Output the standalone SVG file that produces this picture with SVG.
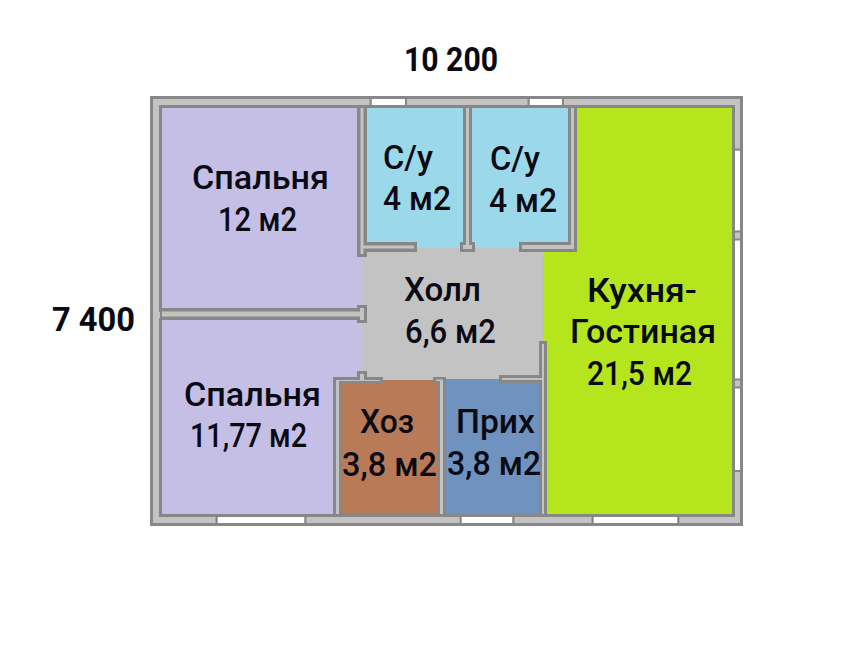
<svg xmlns="http://www.w3.org/2000/svg" width="858" height="647" viewBox="0 0 858 647">
<style>
text{font-family:"Roboto","Liberation Sans",sans-serif;font-size:33.500px;font-weight:500;fill:#0a0a14;text-anchor:middle}
.b{font-weight:700}
.edge{fill:none;stroke:#878787;stroke-width:3}
.dk{fill:#878787}
.lt{fill:#c3c3c3}
.win{fill:#fff}
</style>
<rect width="858" height="647" fill="#fff"/>
<g id="shell"><rect x="151.500" y="97.500" width="590" height="427" fill="#c3c3c3" stroke="#878787" stroke-width="3"/></g>
<g id="windows">
<rect class="win" x="372" y="99" width="33" height="6"/>
<rect class="win" x="530" y="99" width="32" height="6"/>
<rect class="win" x="218" y="517" width="86" height="6"/>
<rect class="win" x="462" y="517" width="50" height="6"/>
<rect class="win" x="594" y="517" width="83" height="6"/>
<rect class="win" x="735" y="151" width="5" height="80"/>
<rect class="win" x="735" y="240" width="5" height="139"/>
<rect class="win" x="735" y="388" width="5" height="82"/>
<path d="M370.500 98V106M406 98V106M528.500 98V106M563 98V106M216.500 516V524M305.500 516V524M460.500 516V524M513.500 516V524M592.500 516V524M678.500 516V524M734 149.500H741M734 231.500H741M734 239.500H741M734 379.500H741M734 387.500H741M734 471H741" stroke="#878787" stroke-width="2" fill="none"/>
</g>
<g id="room-bedroom-1"><rect x="160" y="107" width="202" height="203" fill="#c5bfe6"/><path class="edge" d="M160.500 312V106.500H358"/></g>
<g id="room-bath-1"><rect x="366" y="107" width="98" height="141" fill="#9bd9ea"/></g>
<g id="room-bath-2"><rect x="471" y="107" width="98" height="141" fill="#9bd9ea"/></g>
<g id="room-kitchen"><path d="M576 107H733V515H546V342H543V252H576Z" fill="#b5e61d"/><path class="edge" d="M576 106.500H733.500V515.500H546"/></g>
<g id="room-bedroom-2"><rect x="160" y="319" width="202" height="196" fill="#c5bfe6"/><path class="edge" d="M160.500 318V515.500H334"/></g>
<g id="room-storage"><rect x="341" y="380" width="97" height="135" fill="#b97a57"/></g>
<g id="room-hall-entry"><rect x="445" y="379" width="95" height="136" fill="#7092be"/></g>
<g id="walls">
<path class="dk" d="M357 105H367V242H417V252H367V257H357Z"/>
<path class="lt" d="M360.500 108H363.500V245.500H414V248.500H363.500V254H360.500Z"/>
<path class="dk" d="M463 105H472V242H475V252H460V242H463Z"/>
<path class="lt" d="M466 108H469V245H472V249H463V245H466Z"/>
<path class="dk" d="M568 105H577V252H519V242H568Z"/>
<path class="lt" d="M571 108H574V249H522V245H571Z"/>
<path class="dk" d="M160 308H357V305H367V323H357V320H160Z"/>
<path class="lt" d="M162 311.500H360V308H364V320H360V316.500H162Z"/>
<path class="dk" d="M333 377H357V371H367V377H383V383H342V517H333Z"/>
<path class="lt" d="M336 380H360V374H364V380H380V381H339V514H336Z"/>
<path class="dk" d="M433 377H446V517H437V383H433Z"/>
<path class="lt" d="M436 379.500H443V514H440V381H436Z"/>
<path class="dk" d="M499 375H539V341H547V517H539V383H499Z"/>
<path class="lt" d="M502 378H542V344H544V514H542V380H502Z"/>
<path class="edge" d="M364 106.500H463M472 106.500H568M333 515.500H547"/>
</g>
<g id="labels">
<text x="260.500" y="189" textLength="137" lengthAdjust="spacingAndGlyphs">Спальня</text><text x="257.500" y="231" textLength="79" lengthAdjust="spacingAndGlyphs">12 м2</text>
<text x="408" y="169" textLength="50" lengthAdjust="spacingAndGlyphs">С/у</text><text x="417" y="210" textLength="68" lengthAdjust="spacingAndGlyphs">4 м2</text>
<text x="515" y="170" textLength="50" lengthAdjust="spacingAndGlyphs">С/у</text><text x="523" y="212" textLength="68" lengthAdjust="spacingAndGlyphs">4 м2</text>
<text x="442.500" y="301" textLength="77" lengthAdjust="spacingAndGlyphs">Холл</text><text x="450.500" y="343" textLength="91" lengthAdjust="spacingAndGlyphs">6,6 м2</text>
<text x="642" y="302" textLength="110" lengthAdjust="spacingAndGlyphs">Кухня-</text><text x="643" y="343" textLength="146" lengthAdjust="spacingAndGlyphs">Гостиная</text><text x="639.500" y="385" textLength="105" lengthAdjust="spacingAndGlyphs">21,5 м2</text>
<text x="252.500" y="406" textLength="137" lengthAdjust="spacingAndGlyphs">Спальня</text><text x="248.500" y="447" textLength="117" lengthAdjust="spacingAndGlyphs">11,77 м2</text>
<text x="387" y="433" textLength="54" lengthAdjust="spacingAndGlyphs">Хоз</text><text x="389.500" y="476" textLength="95" lengthAdjust="spacingAndGlyphs">3,8 м2</text>
<text x="495.500" y="433" textLength="79" lengthAdjust="spacingAndGlyphs">Прих</text><text x="494" y="475" textLength="94" lengthAdjust="spacingAndGlyphs">3,8 м2</text>
<text class="b" x="451" y="71" textLength="94" lengthAdjust="spacingAndGlyphs">10 200</text><text class="b" x="93.500" y="331" textLength="83" lengthAdjust="spacingAndGlyphs">7 400</text>
</g>
</svg>
